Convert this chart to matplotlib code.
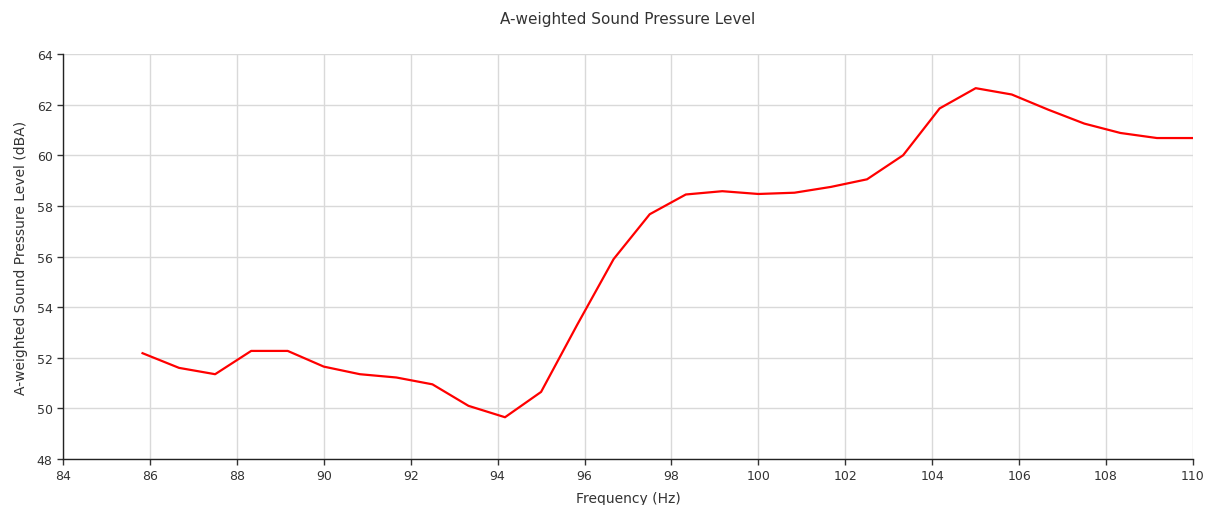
import matplotlib
matplotlib.use("Agg")
import matplotlib.pyplot as plt

# frequency (Hz) and A-weighted SPL (dBA)
freq = [85.83, 86.67, 87.5, 88.33, 89.17, 90.0, 90.83, 91.67, 92.5, 93.33,
        94.17, 95.0, 95.83, 96.67, 97.5, 98.33, 99.17, 100.0, 100.83, 101.67,
        102.5, 103.33, 104.17, 105.0, 105.83, 106.67, 107.5, 108.33, 109.17, 110.0]
spl = [52.18, 51.6, 51.35, 52.27, 52.27, 51.65, 51.35, 51.22, 50.95, 50.1,
       49.65, 50.65, 53.3, 55.9, 57.67, 58.45, 58.58, 58.47, 58.52, 58.75,
       59.05, 60.0, 61.85, 62.65, 62.4, 61.8, 61.25, 60.88, 60.68, 60.68]

xticks = list(range(84, 111, 2))
yticks = list(range(48, 65, 2))

txt = "#333333"
fig = plt.figure(figsize=(12.07, 5.06), dpi=100)
ax = fig.add_axes([0.0522, 0.0909, 0.9362, 0.8004])

ax.plot(freq, spl, color="red", linewidth=1.6)

ax.set_xlim(84, 110)
ax.set_ylim(48, 64)
ax.set_xticks(xticks)
ax.set_yticks(yticks)
ax.grid(True, color="#d9d9d9", linewidth=1)
ax.set_axisbelow(True)

for side in ("top", "right"):
    ax.spines[side].set_visible(False)
for side in ("left", "bottom"):
    ax.spines[side].set_color("#222222")
    ax.spines[side].set_linewidth(1)

ax.tick_params(colors=txt, labelsize=9, length=4, width=1, labelcolor=txt)
ax.set_xlabel("Frequency (Hz)", fontsize=10, color=txt, labelpad=6)
ax.set_ylabel("A-weighted Sound Pressure Level (dBA)", fontsize=10, color=txt, labelpad=6)
ax.set_title("A-weighted Sound Pressure Level", fontsize=11, color=txt, pad=22)

fig.savefig("out.png", dpi=100)
